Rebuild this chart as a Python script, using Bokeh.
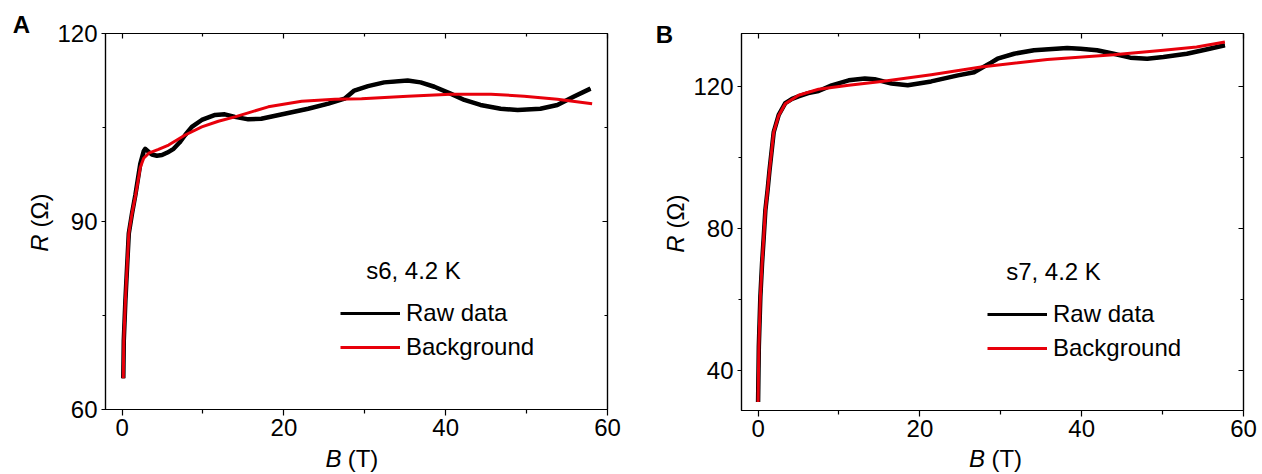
import math
from bokeh.plotting import figure
from bokeh.models import (Range1d, LinearAxis, Label, Legend, LegendItem, FixedTicker)
from bokeh.layouts import row, column
from bokeh.embed import file_html
from bokeh.resources import INLINE

# ---------------- data ----------------
# Panel A: s6, 4.2 K
a_raw_B = [0.15, 0.21, 0.41, 0.62, 0.83, 1.23, 1.64, 2.25, 2.67, 2.87, 3.3, 3.69, 4.3, 4.93,
           5.6, 6.37, 7.1, 7.8, 8.62, 9.85, 11.5, 12.7, 13.95, 15.6, 17.2, 20.1, 23.0, 25.5,
           27.5, 28.7, 30.4, 32.4, 35.3, 36.9, 38.6, 40.6, 42.3, 44.3, 46.8, 48.9, 51.7,
           53.8, 55.8, 57.9]
a_raw_R = [65.0, 71.0, 77.4, 82.8, 88.1, 91.3, 94.2, 99.2, 101.2, 101.6, 101.1, 100.7, 100.5,
           100.6, 101.0, 101.6, 102.6, 103.8, 105.1, 106.2, 107.0, 107.1, 106.7, 106.3, 106.4,
           107.2, 108.0, 108.8, 109.6, 110.9, 111.6, 112.2, 112.5, 112.2, 111.5, 110.4, 109.4,
           108.6, 108.0, 107.8, 108.0, 108.6, 109.9, 111.2]
a_bg_B = [0.15, 0.21, 0.41, 0.62, 0.83, 1.23, 1.64, 2.25, 2.67, 3.29, 4.5, 5.75, 7.8, 9.85,
          11.9, 13.95, 16.0, 18.07, 22.2, 26.3, 29.6, 35.3, 40.6, 45.6, 49.7, 53.8, 58.1]
a_bg_R = [65.0, 71.0, 77.4, 82.8, 88.1, 91.3, 94.0, 98.6, 100.1, 100.9, 101.5, 102.2, 103.8,
          105.1, 106.0, 106.7, 107.5, 108.3, 109.2, 109.5, 109.6, 110.0, 110.3, 110.3, 110.0,
          109.5, 108.8]

# Panel B: s7, 4.2 K
b_raw_B = [0.0, 0.09, 0.28, 0.49, 0.70, 0.90, 1.17, 1.41, 1.93, 2.55, 3.36, 4.2, 5.0, 6.2,
           7.47, 9.1, 11.2, 13.2, 14.4, 16.5, 18.5, 21.4, 24.7, 26.7, 28.8, 29.6, 31.65, 34.1,
           38.2, 39.85, 41.9, 43.95, 46.0, 48.1, 50.1, 53.0, 55.4, 57.7]
b_raw_R = [31.0, 46.5, 60.6, 70.0, 77.5, 85.0, 90.6, 96.2, 107.0, 111.9, 115.2, 116.4, 117.1,
           118.0, 118.6, 120.2, 121.6, 122.1, 121.9, 120.7, 120.2, 121.3, 123.0, 123.9, 126.6,
           127.7, 129.1, 130.1, 130.7, 130.5, 130.1, 129.1, 128.0, 127.7, 128.2, 129.1, 130.3,
           131.5]
b_bg_B = [0.0, 0.09, 0.28, 0.49, 0.70, 0.90, 1.17, 1.41, 1.93, 2.55, 3.36, 5.0, 7.47, 11.2,
          15.25, 21.4, 27.55, 35.75, 43.95, 50.1, 54.2, 57.7]
b_bg_R = [31.0, 46.5, 60.6, 70.0, 77.5, 85.0, 90.6, 96.2, 107.0, 111.7, 115.0, 117.4, 119.1,
          120.2, 121.3, 123.2, 125.35, 127.5, 128.8, 130.1, 131.0, 132.4]

x_major = [0, 20, 40, 60]
x_minor = [10, 30, 50]
a_y_major = [60, 90, 120]
a_y_minor = [75, 105]
b_y_major = [40, 80, 120]
b_y_minor = [60, 100]

FONT = "Liberation Sans"
FS = "24px"
RED = "#e8000b"


def style_axis(ax, out_major, in_major, out_minor, in_minor, labels=True):
    ax.axis_line_color = "black"
    ax.axis_line_width = 1.2
    ax.major_tick_line_color = "black"
    ax.minor_tick_line_color = "black"
    ax.major_tick_line_width = 1.2
    ax.minor_tick_line_width = 1.2
    ax.major_tick_out = out_major
    ax.major_tick_in = in_major
    ax.minor_tick_out = out_minor
    ax.minor_tick_in = in_minor
    ax.major_label_text_font = FONT
    if labels:
        ax.major_label_text_font_size = FS
        ax.major_label_text_color = "black"
    else:
        ax.major_label_text_font_size = "8px"
        ax.major_label_text_color = None
        ax.major_label_standoff = 0


def text_fig(width, height, texts):
    """A bare figure (no axes, no title) whose frame is the whole area, for outside texts."""
    f = figure(width=width, height=height, x_range=Range1d(0, width),
               y_range=Range1d(0, height), x_axis_type=None, y_axis_type=None,
               title=None, output_backend="svg", toolbar_location=None,
               min_border=0, min_border_left=0, min_border_right=0,
               min_border_top=0, min_border_bottom=0)
    f.grid.visible = False
    f.outline_line_color = None
    f.background_fill_color = "white"
    f.border_fill_color = "white"
    for (x, y, t, style, angle, align, base) in texts:
        f.add_layout(Label(x=x, y=y, text=t, angle=angle, text_align=align,
                           text_baseline=base, text_font=FONT, text_font_size=FS,
                           text_font_style=style, text_color="black"))
    return f


def make_main(width, border_left, border_right, height, border_bottom, yr, ymaj, ymin,
              raw_B, raw_R, bg_B, bg_R, note, legend_xy, note_xy):
    p = figure(width=width, height=height, x_range=Range1d(-2.05, 60), y_range=Range1d(*yr),
               title=None, output_backend="svg", toolbar_location=None,
               min_border_left=border_left, min_border_right=border_right,
               min_border_top=33, min_border_bottom=border_bottom)
    p.grid.visible = False
    p.outline_line_color = "black"
    p.outline_line_width = 1.2
    p.background_fill_color = "white"
    p.border_fill_color = "white"

    xt = FixedTicker(ticks=x_major, minor_ticks=x_minor)
    yt = FixedTicker(ticks=ymaj, minor_ticks=ymin)
    p.xaxis.ticker = xt
    p.yaxis.ticker = yt
    style_axis(p.xaxis[0], 6, 0, 4, 0)
    p.xaxis.major_label_standoff = 3
    style_axis(p.yaxis[0], 4, 0, 3, 0)
    p.yaxis.major_label_standoff = 4

    top = LinearAxis(ticker=xt)
    style_axis(top, 0, 5, 0, 3, labels=False)
    p.add_layout(top, "above")
    right = LinearAxis(ticker=yt)
    style_axis(right, 0, 5, 0, 3, labels=False)
    p.add_layout(right, "right")

    p.line(raw_B, raw_R, line_color="black", line_width=4.5, line_join="round")
    r_raw_leg = p.line(raw_B, raw_R, line_color="black", line_width=3, line_join="round")
    r_bg = p.line(bg_B, bg_R, line_color=RED, line_width=3, line_join="round")

    legend = Legend(items=[LegendItem(label="Raw data", renderers=[r_raw_leg]),
                           LegendItem(label="Background", renderers=[r_bg])],
                    location=legend_xy, orientation="vertical",
                    border_line_color=None, background_fill_alpha=0,
                    label_text_font=FONT, label_text_font_size=FS, label_text_color="black",
                    glyph_width=60, glyph_height=28, label_height=28,
                    label_standoff=6, spacing=6, padding=0, margin=0)
    p.add_layout(legend)

    p.add_layout(Label(x=note_xy[0], y=note_xy[1], x_units="screen", y_units="screen",
                       text=note, text_align="center", text_baseline="middle",
                       text_font=FONT, text_font_size=FS, text_color="black"))
    return p


H = math.pi / 2
# ----- panel A -----
leftA = text_fig(54, 474, [
    (21, 450.5, "A", "bold", 0.0, "center", "middle"),
    (39, 231.5, "R", "italic", H, "center", "middle"),
    (39, 264, "(\u03a9)", "normal", H, "center", "middle"),
])
mainA = make_main(582, 49, 29, 446, 37, (60, 120), a_y_major, a_y_minor,
                  a_raw_B, a_raw_R, a_bg_B, a_bg_R, "s6, 4.2 K", (235, 48), (308, 139))
botA = text_fig(582, 28, [
    (273.6, 16.0, "B", "italic", 0.0, "right", "alphabetic"),
    (280.8, 16.0, "(T)", "normal", 0.0, "left", "alphabetic"),
])

# ----- panel B -----
leftB = text_fig(54, 474, [
    (28, 440.5, "B", "bold", 0.0, "center", "middle"),
    (39, 230.5, "R", "italic", H, "center", "middle"),
    (39, 263, "(\u03a9)", "normal", H, "center", "middle"),
])
mainB = make_main(572, 49, 19, 446, 36, (28.6, 134.8), b_y_major, b_y_minor,
                  b_raw_B, b_raw_R, b_bg_B, b_bg_R, "s7, 4.2 K", (246, 48), (312, 139))
botB = text_fig(572, 28, [
    (277.6, 16.0, "B", "italic", 0.0, "right", "alphabetic"),
    (284.8, 16.0, "(T)", "normal", 0.0, "left", "alphabetic"),
])

layout = row(leftA, column(mainA, botA), leftB, column(mainB, botB))
open("out.html", "w").write(file_html(layout, INLINE))
